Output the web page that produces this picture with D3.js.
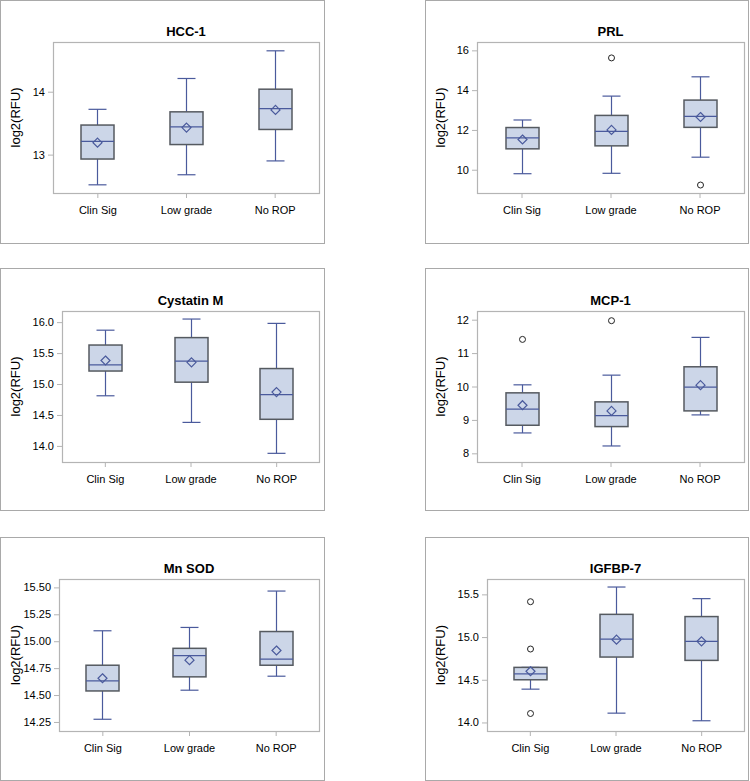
<!DOCTYPE html>
<html><head><meta charset="utf-8">
<script src="https://cdn.jsdelivr.net/npm/d3@7"></script>
<style>
body{margin:0;background:#fff;}
svg{display:block;font-family:"Liberation Sans",Arial,sans-serif;}
</style></head>
<body><svg id="c" width="750" height="781"></svg>
<script>
const categories = ["Clin Sig","Low grade","No ROP"];
const titles = ["HCC-1","PRL","Cystatin M","MCP-1","Mn SOD","IGFBP-7"];
// [whiskerLow, Q1, median, Q3, whiskerHigh, mean]
const hcc1 = [[12.52,12.93,13.21,13.47,13.72,13.19],[12.68,13.16,13.44,13.68,14.21,13.43],[12.90,13.40,13.73,14.04,14.65,13.71]];
const prl = [[9.80,11.05,11.60,12.12,12.50,11.52],[9.82,11.20,11.93,12.73,13.70,12.00],[10.63,12.13,12.68,13.50,14.67,12.65]];
const cystatinM = [[14.81,15.21,15.31,15.63,15.87,15.38],[14.38,15.03,15.37,15.75,16.05,15.35],[13.88,14.43,14.83,15.25,15.98,14.87]];
const mcp1 = [[8.61,8.84,9.32,9.81,10.05,9.44],[8.22,8.80,9.13,9.54,10.34,9.27],[9.15,9.27,9.98,10.59,11.47,10.04]];
const mnSod = [[14.275,14.538,14.632,14.777,15.097,14.656],[14.545,14.669,14.867,14.934,15.128,14.824],[14.675,14.777,14.833,15.09,15.466,14.914]];
const igfbp7 = [[14.39,14.50,14.57,14.645,14.645,14.60],[14.109,14.766,14.977,15.266,15.586,14.97],[14.02,14.727,14.95,15.24,15.45,14.95]];
const outliersHcc1 = [[],[],[]];
const outliersPrl = [[],[15.62],[9.23]];
const outliersCystatinM = [[],[],[]];
const outliersMcp1 = [[11.41],[11.97],[]];
const outliersMnSod = [[],[],[]];
const outliersIgfbp7 = [[15.414,14.86,14.105],[],[]];
const ticksHcc1 = [13,14];
const ticksPrl = [10,12,14,16];
const ticksCystatinM = [14.0,14.5,15.0,15.5,16.0];
const ticksMcp1 = [8,9,10,11,12];
const ticksMnSod = [14.25,14.50,14.75,15.00,15.25,15.50];
const ticksIgfbp7 = [14.0,14.5,15.0,15.5];
const tickFormats = ["d","d",".1f","d",".2f",".1f"];

const stats = [hcc1,prl,cystatinM,mcp1,mnSod,igfbp7];
const outs = [outliersHcc1,outliersPrl,outliersCystatinM,outliersMcp1,outliersMnSod,outliersIgfbp7];
const tickSets = [ticksHcc1,ticksPrl,ticksCystatinM,ticksMcp1,ticksMnSod,ticksIgfbp7];
const domains = [[12.39,14.79],[8.83,16.42],[13.74,16.18],[7.74,12.26],[14.166,15.578],[13.90,15.68]];

// layout
const frames = [[0.5,0.5,324,243],[425.5,0.5,323,243],[0.5,268.5,324,242],[425.5,268.5,323,242],[0.5,537.5,324,243],[425.5,537.5,323,243]];
const plots = [[53,42,319,193],[477,42,744,193],[62,311,319,462],[477,311,744,462],[59,579,319,731],[487,579,744,731]];

const BLUE="#4a5a9c", FILL="#ccd6e8", EDGE="#555a60", FRAME="#b4b4b4", OUTER="#a9a9a9";
const svg = d3.select("#c");

stats.forEach((st,i)=>{
  const [fx,fy,fw,fh]=frames[i];
  const [x0,y0,x1,y1]=plots[i];
  const g = svg.append("g");
  g.append("rect").attr("x",fx).attr("y",fy).attr("width",fw).attr("height",fh)
    .attr("fill","none").attr("stroke",OUTER).attr("stroke-width",1);
  const x = d3.scalePoint().domain(categories).range([x0,x1]).padding(0.5);
  const y = d3.scaleLinear().domain(domains[i]).range([y1,y0]);
  g.append("text").attr("x",(x0+x1)/2).attr("y",y0-6).attr("text-anchor","middle")
    .attr("font-size",13).attr("font-weight","bold").attr("fill","#000").text(titles[i]);
  g.append("text").attr("transform",`translate(${fx+19},${(y0+y1)/2}) rotate(-90)`)
    .attr("text-anchor","middle").attr("font-size",13).attr("fill","#000").text("log2(RFU)");
  const ya = g.append("g").attr("transform",`translate(${x0},0)`)
    .call(d3.axisLeft(y).tickValues(tickSets[i]).tickFormat(d3.format(tickFormats[i])).tickSize(5).tickPadding(3));
  const xa = g.append("g").attr("transform",`translate(0,${y1})`)
    .call(d3.axisBottom(x).tickSize(5).tickPadding(8));
  [ya,xa].forEach(a=>{
    a.select(".domain").remove();
    a.selectAll("line").attr("stroke",FRAME);
    a.selectAll("text").attr("font-size",11).attr("fill","#000").attr("font-family","'Liberation Sans',Arial,sans-serif");
  });
  g.append("rect").attr("x",x0+0.5).attr("y",y0+0.5).attr("width",x1-x0).attr("height",y1-y0)
    .attr("fill","none").attr("stroke",FRAME).attr("stroke-width",1.2);
  const bw=33, cw=18;
  categories.forEach((c,j)=>{
    const [lo,q1,med,q3,hi,mean]=st[j];
    const cx=Math.round(x(c))+0.5;
    g.append("line").attr("x1",cx).attr("x2",cx).attr("y1",y(hi)).attr("y2",y(q3)).attr("stroke",BLUE).attr("stroke-width",1.2);
    g.append("line").attr("x1",cx).attr("x2",cx).attr("y1",y(q1)).attr("y2",y(lo)).attr("stroke",BLUE).attr("stroke-width",1.2);
    [hi,lo].forEach(v=>g.append("line").attr("x1",cx-cw/2).attr("x2",cx+cw/2).attr("y1",y(v)).attr("y2",y(v)).attr("stroke",BLUE).attr("stroke-width",1.2));
    g.append("rect").attr("x",cx-bw/2).attr("y",y(q3)).attr("width",bw).attr("height",y(q1)-y(q3))
      .attr("fill",FILL).attr("stroke",EDGE).attr("stroke-width",1.5);
    g.append("line").attr("x1",cx-bw/2).attr("x2",cx+bw/2).attr("y1",y(med)).attr("y2",y(med)).attr("stroke",BLUE).attr("stroke-width",1.2);
    const my=y(mean), r=4.5;
    g.append("path").attr("d",`M${cx},${my-r}L${cx+r},${my}L${cx},${my+r}L${cx-r},${my}Z`)
      .attr("fill","none").attr("stroke",BLUE).attr("stroke-width",1.2);
    outs[i][j].forEach(v=>{
      g.append("circle").attr("cx",cx).attr("cy",y(v)).attr("r",3).attr("fill","none").attr("stroke","#222").attr("stroke-width",1);
    });
  });
});
</script></body></html>
